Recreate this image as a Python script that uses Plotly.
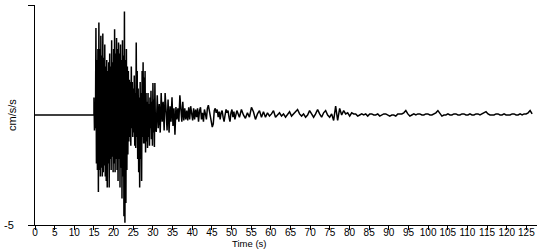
import numpy as np
import plotly.graph_objects as go

# Pre-event quiet record (s, cm/s/s)
quiet_t = [0.0, 15.0]
quiet_v = [0.0, 0.0]

# Strong-motion segment: start 15.0 s, sample interval 0.125 s
strong_t0 = 15.0
strong_dt = 0.125
strong_v = [
    0.8, -0.7, 0.5, -0.6, 3.95, -2.2, 2.5, -2.5, 3.0, -3.5,
    4.2, -2.5, 3.0, -2.8, 3.6, -2.4, 2.7, -2.8, 3.7, -2.6,
    2.6, -2.3, 3.2, -2.8, 2.2, -3.0, 2.5, -3.3, 2.0, -2.2,
    2.4, -3.3, 2.8, -2.0, 2.2, -2.5, 3.4, -1.9, 2.4, -2.6,
    3.0, -2.2, 3.9, -2.6, 2.8, -2.0, 3.5, -2.5, 3.0, -3.0,
    3.3, -2.0, 2.8, -3.3, 3.2, -2.4, 2.5, -3.8, 3.4, -2.8,
    2.7, -4.6, 4.7, -4.9, 2.5, -4.0, 3.0, -2.5, 2.2, -1.8,
    2.0, -1.2, 1.6, -1.0, 1.5, -1.4, 2.2, -0.6, 1.5, -1.0,
    1.2, -0.8, 1.8, -1.4, 1.0, -1.5, 3.3, -1.0, 2.0, -2.0,
    1.2, -2.6, 0.8, -3.3, 1.5, -2.0, 1.0, -3.0, 2.0, -1.0,
    2.4, -1.3, 1.7, -1.3, 2.0, -1.7, 1.0, -1.2, 0.6, -1.5,
    1.0, -1.0, 0.5, -1.4, 0.8, -0.6, 1.1, -1.1, 0.6, -1.4,
    1.45, -0.8, 0.7, -1.45, 1.45, -0.5,
]

# Decaying coda: start 30.85 s, sample interval 0.25 s
coda_t0 = 30.85
coda_dt = 0.25
coda_v = [
    -0.77, 0.9, -0.6, 0.5, -0.8, 1.0, -0.3, 0.6, -0.7, 1.0,
    0.2, -0.7, 0.7, -0.8, 0.4, -0.3, 0.8, -0.5, 0.3, -0.9,
    0.36, -0.2, 0.3, -0.3, 0.9, 0.2, -0.3, 0.6, -0.25, 0.3,
    -0.2, 0.2, -0.25, 0.35, -0.2, 0.4, 0.0, -0.25, 0.3, -0.2,
    0.25, -0.1, 0.3, -0.3, 0.2, 0.35, -0.2, 0.1, -0.3, 0.25,
    0.05, -0.2, 0.3, 0.45, 0.2, -0.1, -0.3, -0.55, -0.4, 0.2,
    0.3, 0.1, 0.25, -0.1, 0.15, -0.2, 0.1, 0.2, -0.1, -0.3,
    0.0, 0.25, 0.1, 0.2, -0.1, -0.3, 0.1, 0.25, -0.1, 0.15,
    -0.2, 0.05, 0.2,
]

# Late tail: start 52.0 s, sample interval 0.51 s
tail_t0 = 52.0
tail_dt = 0.51
tail_v = [
    -0.1, 0.25, 0.0, -0.15, 0.1, -0.1, 0.35, 0.15, -0.2, 0.05,
    0.2, -0.1, 0.15, -0.1, 0.1, -0.05, 0.05, 0.2, -0.1, 0.0,
    0.1, -0.05, 0.05, -0.1, 0.05, 0.15, -0.05, 0.05, 0.15, 0.25,
    0.05, -0.05, 0.05, -0.1, 0.0, 0.2, 0.05, -0.1, 0.05, 0.25,
    0.05, -0.1, 0.1, 0.2, 0.0, -0.1, 0.05, -0.25, 0.4, -0.25,
    0.3, 0.0, 0.2, 0.05, 0.1, -0.05, 0.1, 0.05, 0.05, -0.05,
    0.0, 0.05, 0.0, 0.05, -0.05, 0.05, 0.05, 0.0, 0.0, 0.05,
    -0.05, 0.0, 0.05, 0.05, 0.0, -0.05, 0.0, 0.0, -0.05, 0.05,
    0.05, 0.05, 0.1, 0.2, 0.05, -0.05, 0.0, 0.05, 0.0, 0.05,
    0.05, 0.0, 0.0, 0.05, 0.05, 0.0, 0.0, 0.05, 0.1, 0.2,
    0.05, -0.05, 0.0, 0.0, 0.05, 0.0, 0.0, 0.05, 0.05, 0.0,
    0.0, 0.05, 0.05, 0.0, 0.0, 0.05, 0.0, 0.0, 0.05, 0.05,
    0.0, 0.05, 0.1, 0.15, 0.05, 0.0, 0.0, 0.0, 0.05, 0.05,
    0.0, 0.0, 0.05, 0.0, 0.0, 0.0, 0.05, 0.05, 0.0, 0.0,
    0.05, 0.0, 0.05, 0.05, 0.1, 0.2, 0.05,
]

x_ticks = list(range(0, 130, 5))
y_ticks = [-5, 5]

t = (list(quiet_t)
     + list(strong_t0 + strong_dt * np.arange(len(strong_v)))
     + list(coda_t0 + coda_dt * np.arange(len(coda_v)))
     + list(tail_t0 + tail_dt * np.arange(len(tail_v))))
v = quiet_v + strong_v + coda_v + tail_v

fig = go.Figure()
fig.add_trace(go.Scatter(x=t, y=v, mode="lines",
                         line=dict(color="black", width=1.5),
                         hoverinfo="skip", showlegend=False))

family = "Liberation Sans, Arial, sans-serif"
font = dict(family=family, size=11, color="black")

fig.update_layout(
    width=550, height=250,
    margin=dict(l=35, r=13, t=5, b=25),
    paper_bgcolor="white", plot_bgcolor="white",
    font=font,
    xaxis=dict(range=[0, 127.7], tickvals=x_ticks, ticktext=[str(k) for k in x_ticks],
               tickangle=0, automargin=False, ticklabelstandoff=-6,
               tickfont=dict(family=family, size=10, color="black"),
               showline=True, linecolor="black", linewidth=1,
               ticks="outside", ticklen=4, tickcolor="black",
               showgrid=False, zeroline=False),
    yaxis=dict(range=[-5, 5], tickvals=y_ticks, ticktext=["-5", "5"],
               automargin=False,
               showline=True, linecolor="black", linewidth=1,
               ticks="outside", ticklen=6, tickcolor="black",
               ticklabelstandoff=12,
               showgrid=False, zeroline=False),
    annotations=[
        dict(text="Time (s)", xref="paper", yref="paper", x=0.427, y=-0.1136,
             xanchor="center", yanchor="bottom", showarrow=False,
             borderpad=0, font=dict(family=family, size=9.5, color="black")),
        dict(text="cm/s/s", xref="paper", yref="paper", x=-0.046, y=0.5,
             xanchor="center", yanchor="middle", textangle=-90,
             showarrow=False, font=font),
    ],
)

fig.write_html("out.html")
